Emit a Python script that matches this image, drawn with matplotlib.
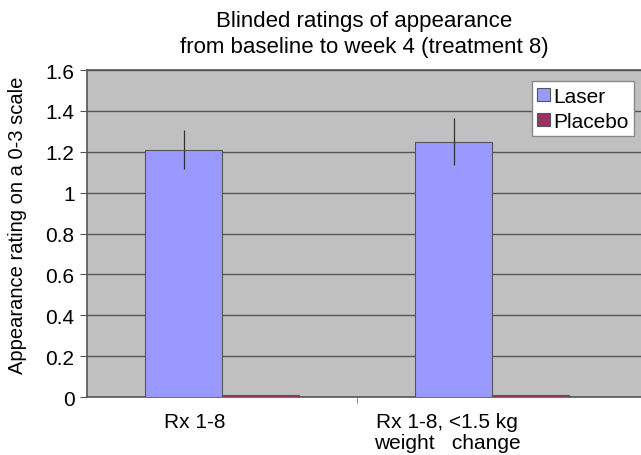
import numpy as np
import matplotlib.pyplot as plt

plt.rcParams['font.family'] = ['Liberation Sans', 'DejaVu Sans']

categories = ['Rx 1-8', 'Rx 1-8, <1.5 kg\nweight   change']
laser = [1.21, 1.25]
laser_err = [0.095, 0.115]
placebo = [0.01, 0.01]
yticks = [0, 0.2, 0.4, 0.6, 0.8, 1, 1.2, 1.4, 1.6]
ytick_labels = ['0', '0.2', '0.4', '0.6', '0.8', '1', '1.2', '1.4', '1.6']

fig = plt.figure(figsize=(6.41, 4.56), dpi=100)
ax = fig.add_axes([87/641, 1 - 398/456, 1 - 87/641, (398 - 71)/456])
ax.set_facecolor('#C0C0C0')

x = np.arange(len(categories))
w = 0.285
ax.bar(x - w/2, laser, w, color='#9999FF', edgecolor='#555555', linewidth=0.8,
       label='Laser', zorder=3)
ax.errorbar(x - w/2, laser, yerr=laser_err, fmt='none', ecolor='#333333',
            elinewidth=0.9, capsize=0, zorder=4)
ax.bar(x + w/2, placebo, w, color='#993366', edgecolor='#555555', linewidth=0.8,
       label='Placebo', zorder=3)

ax.set_xlim(-0.5, 1.5 + 14/270)
ax.set_ylim(0, 1.6)
ax.set_yticks(yticks)
ax.set_yticklabels(ytick_labels)
ax.yaxis.grid(True, color='#555555', linewidth=1.0, zorder=0)

# category labels sit a little left of the category centres, as in the original
ax.set_xticks(x + np.array([-0.1, -0.167]))
ax.set_xticklabels(categories, linespacing=1.1)
ax.set_xticks([0.5], minor=True)
ax.tick_params(axis='x', which='major', length=0, pad=11, labelsize=15)
ax.tick_params(axis='x', which='minor', length=4, color='#777777')
ax.tick_params(axis='y', length=5, color='#555555', labelsize=15, pad=4)

ax.spines['right'].set_visible(False)
for s in ['left', 'top', 'bottom']:
    ax.spines[s].set_color('#555555')
    ax.spines[s].set_linewidth(1.2)

ax.set_ylabel('Appearance rating on a 0-3 scale', fontsize=14.5)
ax.yaxis.label.set(ha='center', va='center')
ax.yaxis.set_label_coords((17.5 - 87)/554, (398 - 225)/327)

fig.text(364/641, 1 - 27/456, 'Blinded ratings of appearance',
         ha='center', va='baseline', fontsize=16)
fig.text(364/641, 1 - 53/456, 'from baseline to week 4 (treatment 8)',
         ha='center', va='baseline', fontsize=16)

leg = ax.legend(loc='upper right', bbox_to_anchor=((634 - 87)/554, (398 - 82)/327),
                fontsize=15, frameon=True, fancybox=False, edgecolor='#888888',
                framealpha=1, handlelength=0.6, handleheight=0.6, handletextpad=0.15,
                borderpad=0.27, labelspacing=0.29, borderaxespad=0)
leg.get_frame().set_linewidth(1.0)

fig.savefig('out.png', dpi=100)
